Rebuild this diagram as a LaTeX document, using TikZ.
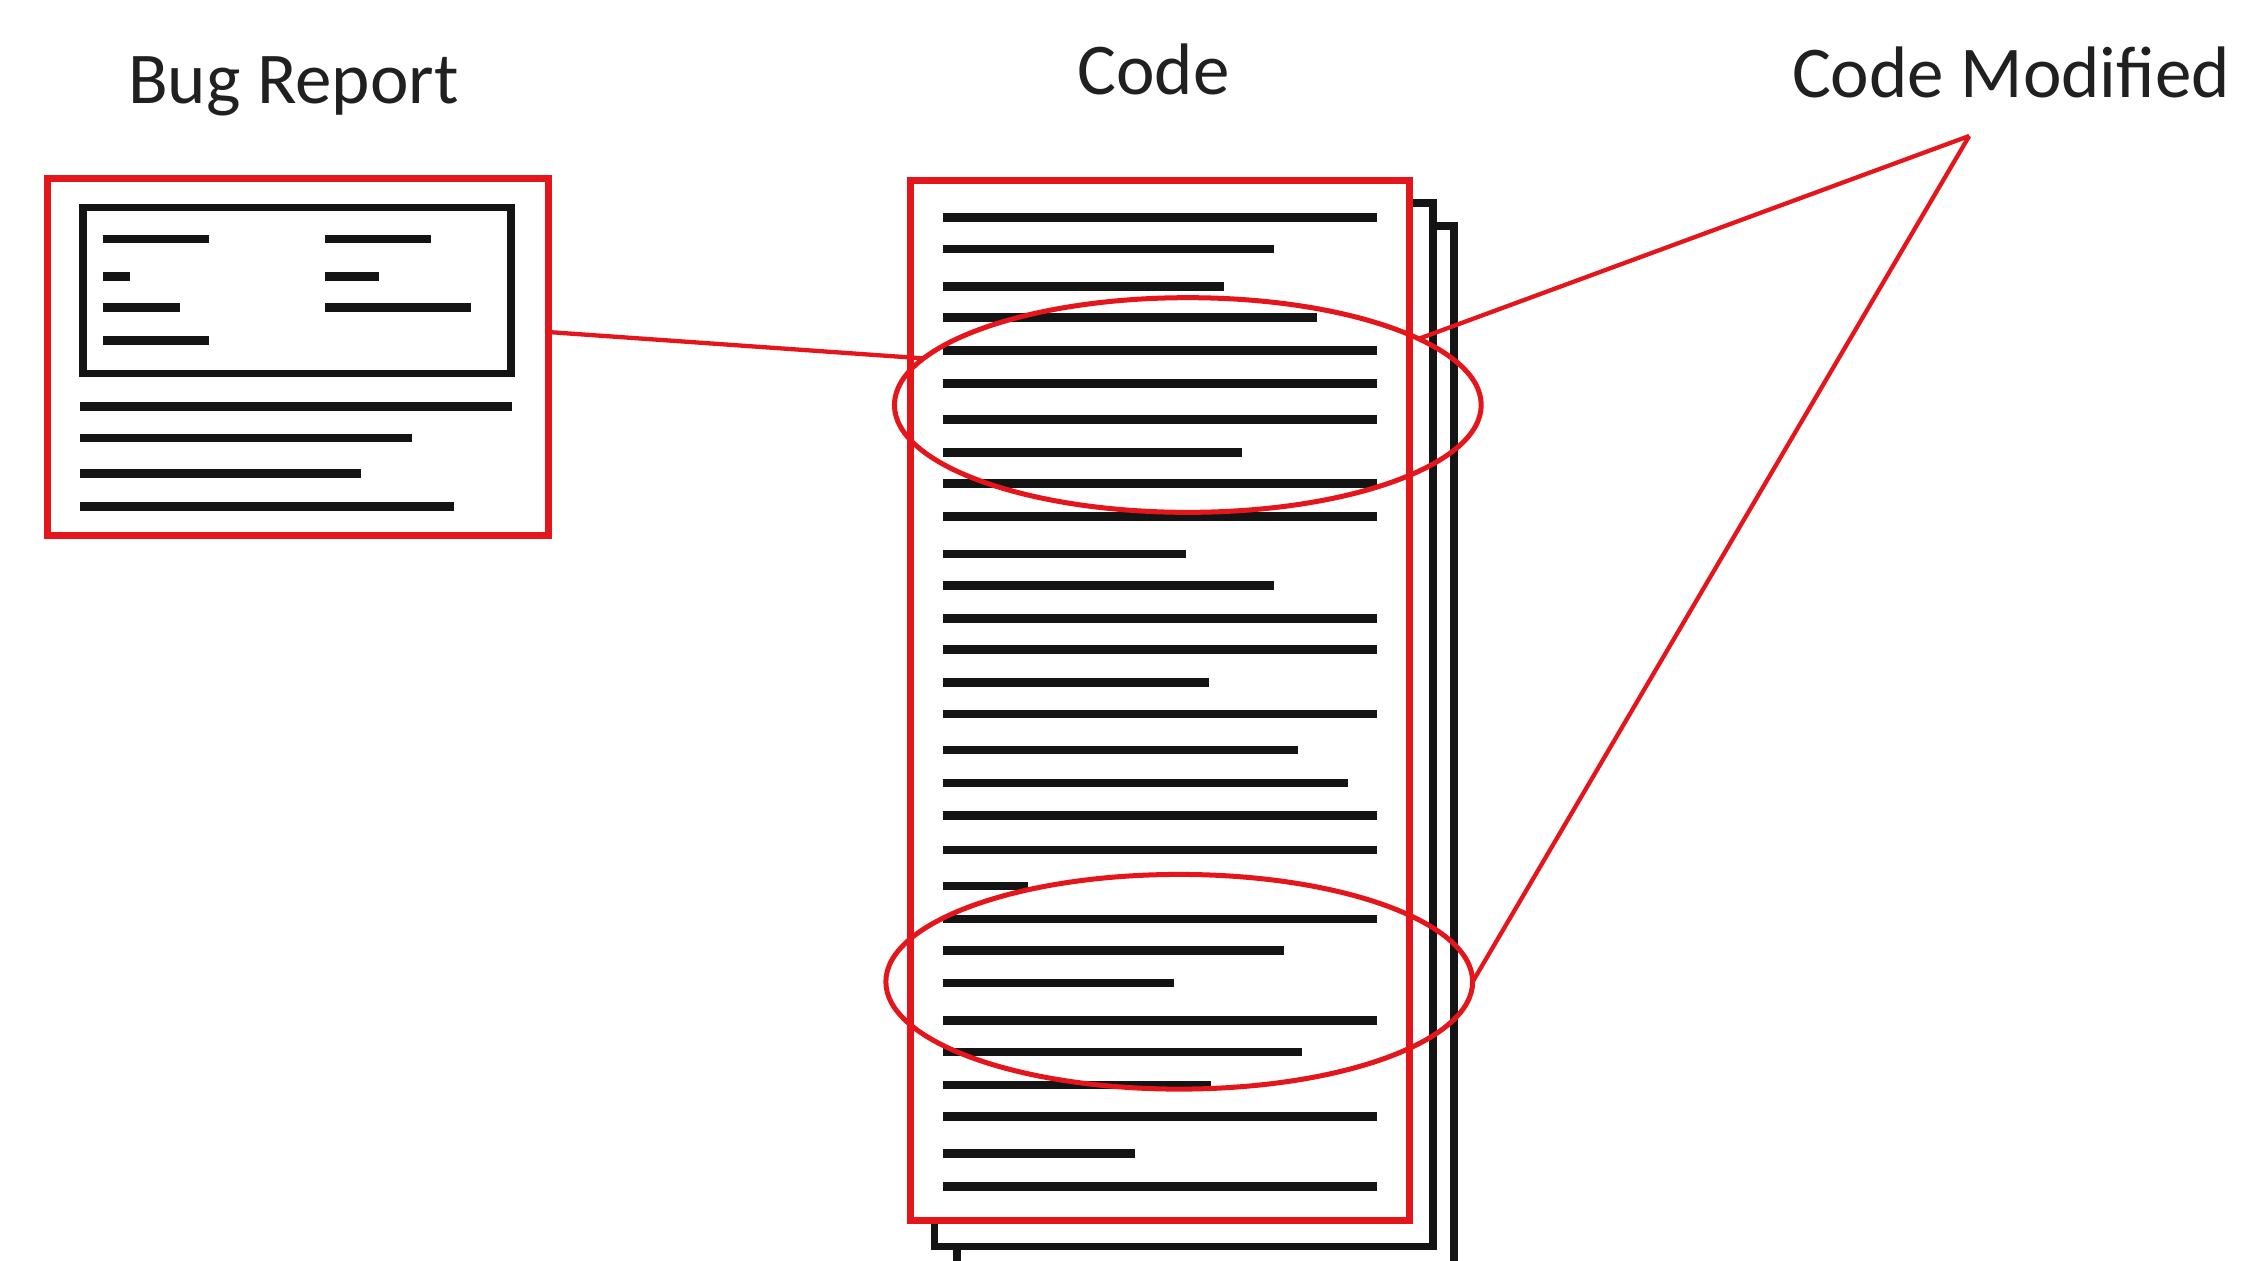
\documentclass[tikz,border=0pt]{standalone}
\usepackage{fontspec}
\setmainfont{Carlito}
\usetikzlibrary{shapes.geometric}
\definecolor{myred}{RGB}{228,22,28}
\definecolor{txt}{RGB}{32,32,32}
\definecolor{ink}{RGB}{20,20,20}
\begin{document}
\begin{tikzpicture}[x=1pt,y=-1pt,
  redbox/.style={draw=myred, line width=5pt, fill=white, inner sep=0pt, outer sep=0pt},
  pagebox/.style={draw=ink, line width=5.5pt, fill=white},
  txtline/.style={draw=ink, line width=6pt},
  frameline/.style={draw=ink, line width=5.5pt},
  ring/.style={ellipse, draw=myred, line width=3.5pt, inner sep=0pt, outer sep=0pt, minimum width=410pt, minimum height=150pt},
  link/.style={draw=myred, line width=3pt},
  lbl/.style={font=\fontsize{51}{60}\selectfont, text=txt, inner sep=0pt, anchor=base}]
\useasboundingbox (0,0) rectangle (1568,881);
\clip (0,0) rectangle (1568,881);
\fill[white] (0,0) rectangle (1568,881);

% labels
\node[lbl] (tbug) at (205,72) {Bug Report};
\node[lbl] (tcode) at (806,66) {Code};
\node[lbl, anchor=base west] (tmod) at (1252,68) {Code Modified};

% bug report
\node[redbox, minimum width=350pt, minimum height=249pt] (bug) at (208,249.5) {};
\draw[frameline] (58,145) rectangle (357,261);
\foreach \y/\e in {167/146, 193/91, 215/126, 238/146}
  \draw[txtline] (72,\y) -- (\e,\y);
\foreach \y/\e in {167/301, 193/265, 215/329}
  \draw[txtline] (227,\y) -- (\e,\y);
\foreach \y/\e in {284/358, 306/288, 331/252, 354/317}
  \draw[txtline] (56,\y) -- (\e,\y);

% code pages
\draw[pagebox] (669,158) rectangle (1016,920);
\draw[pagebox] (653,142) rectangle (1001,871);
\node[redbox, minimum width=349pt, minimum height=727pt] (code) at (810.5,489.5) {};
\foreach \y/\e in {152/962, 174/890, 200/855, 222/920, 245/962, 268/962, 293/962,
  316/868, 338/962, 361/962, 387/829, 409/890, 432/962, 454/962, 477/845, 499/962,
  524/907, 547/942, 570/962, 594/962, 619/718, 642/962, 664/897, 687/820, 713/962,
  735/910, 758/846, 780/962, 806/793, 829/962}
  \draw[txtline] (659,\y) -- (\e,\y);

% highlighted regions
\node[ring] (e1) at (830,283) {};
\node[ring] (e2) at (824,686) {};

% connectors
\coordinate (apex) at (1376,95);
\draw[link] ([yshift=17.5pt]bug.east) -- (e1.170);
\draw[link] (apex) -- (e1.16);
\draw[link] (apex) -- (e2.east);
\end{tikzpicture}
\end{document}
